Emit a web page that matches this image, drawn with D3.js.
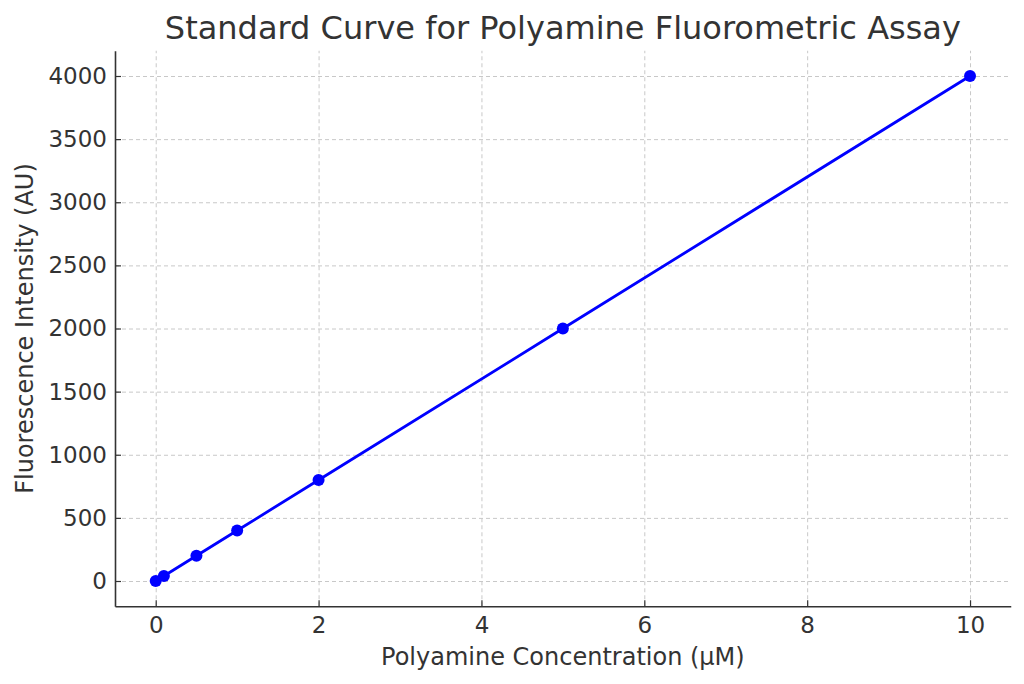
<!DOCTYPE html>
<html>
<head>
<title>Standard Curve</title>
<script src="https://d3js.org/d3.v7.min.js"></script>
<style>
  body { margin: 0; background: #fff; }
  svg text { font-family: "DejaVu Sans", sans-serif; fill: #333; }
  .grid line { stroke: #c8c8c8; stroke-dasharray: 4,3; stroke-width: 1; }
  .grid path { display: none; }
  .axis path, .axis line { stroke: #333; }
  .axis path { stroke-width: 1.6; }
  .axis .tick text { font-size: 23px; font-family: "DejaVu Sans", sans-serif; fill: #333; }
</style>
</head>
<body>
<svg id="chart" width="1024" height="684"></svg>
<script>
// concentration (µM) and fluorescence (AU)
var concentration = [0, 0.1, 0.5, 1, 2, 5, 10];
var fluorescence = [0, 40, 200, 400, 800, 2000, 4000];
var xTicks = [0, 2, 4, 6, 8, 10];
var yTicks = [0, 500, 1000, 1500, 2000, 2500, 3000, 3500, 4000];

var margin = { top: 50.75, right: 13.25, bottom: 77.75, left: 115 };
var svg = d3.select("#chart");
var width = 1024 - margin.left - margin.right;
var height = 684 - margin.top - margin.bottom;

var x = d3.scaleLinear().domain([-0.5, 10.5]).range([0, width]);
var y = d3.scaleLinear().domain([-200, 4200]).range([height, 0]);

var g = svg.append("g")
    .attr("transform", "translate(" + margin.left + "," + margin.top + ")");

// grid
g.append("g").attr("class", "grid")
    .attr("transform", "translate(0," + height + ")")
    .call(d3.axisBottom(x).tickValues(xTicks).tickSize(-height).tickFormat(""));
g.append("g").attr("class", "grid")
    .call(d3.axisLeft(y).tickValues(yTicks).tickSize(-width).tickFormat(""));

// axes (left and bottom only), ticks pointing inward
var fmt = d3.format("d");
var xAxis = g.append("g").attr("class", "axis")
    .attr("transform", "translate(0," + height + ")")
    .call(d3.axisBottom(x).tickValues(xTicks).tickFormat(fmt)
        .tickSizeInner(-6).tickSizeOuter(0).tickPadding(10));
var yAxis = g.append("g").attr("class", "axis")
    .call(d3.axisLeft(y).tickValues(yTicks).tickFormat(fmt)
        .tickSizeInner(-6).tickSizeOuter(0).tickPadding(8));
xAxis.selectAll(".tick line").attr("stroke-width", 1.2);
yAxis.selectAll(".tick line").attr("stroke-width", 1.2);

var pts = concentration.map(function(c, i) { return [c, fluorescence[i]]; });

g.append("path")
    .datum(pts)
    .attr("fill", "none")
    .attr("stroke", "#0000ff")
    .attr("stroke-width", 2.8)
    .attr("d", d3.line().x(function(d) { return x(d[0]); }).y(function(d) { return y(d[1]); }));

g.selectAll("circle.pt").data(pts).enter()
    .append("circle")
    .attr("class", "pt")
    .attr("cx", function(d) { return x(d[0]); })
    .attr("cy", function(d) { return y(d[1]); })
    .attr("r", 6)
    .attr("fill", "#0000ff");

// title and labels
svg.append("text")
    .attr("x", margin.left + width / 2)
    .attr("y", 39)
    .attr("text-anchor", "middle")
    .style("font-size", "32px")
    .text("Standard Curve for Polyamine Fluorometric Assay");

svg.append("text")
    .attr("x", margin.left + width / 2)
    .attr("y", 665)
    .attr("text-anchor", "middle")
    .style("font-size", "24px")
    .text("Polyamine Concentration (µM)");

svg.append("text")
    .attr("transform", "translate(33," + (margin.top + height / 2) + ") rotate(-90)")
    .attr("text-anchor", "middle")
    .style("font-size", "24px")
    .text("Fluorescence Intensity (AU)");
</script>
</body>
</html>
